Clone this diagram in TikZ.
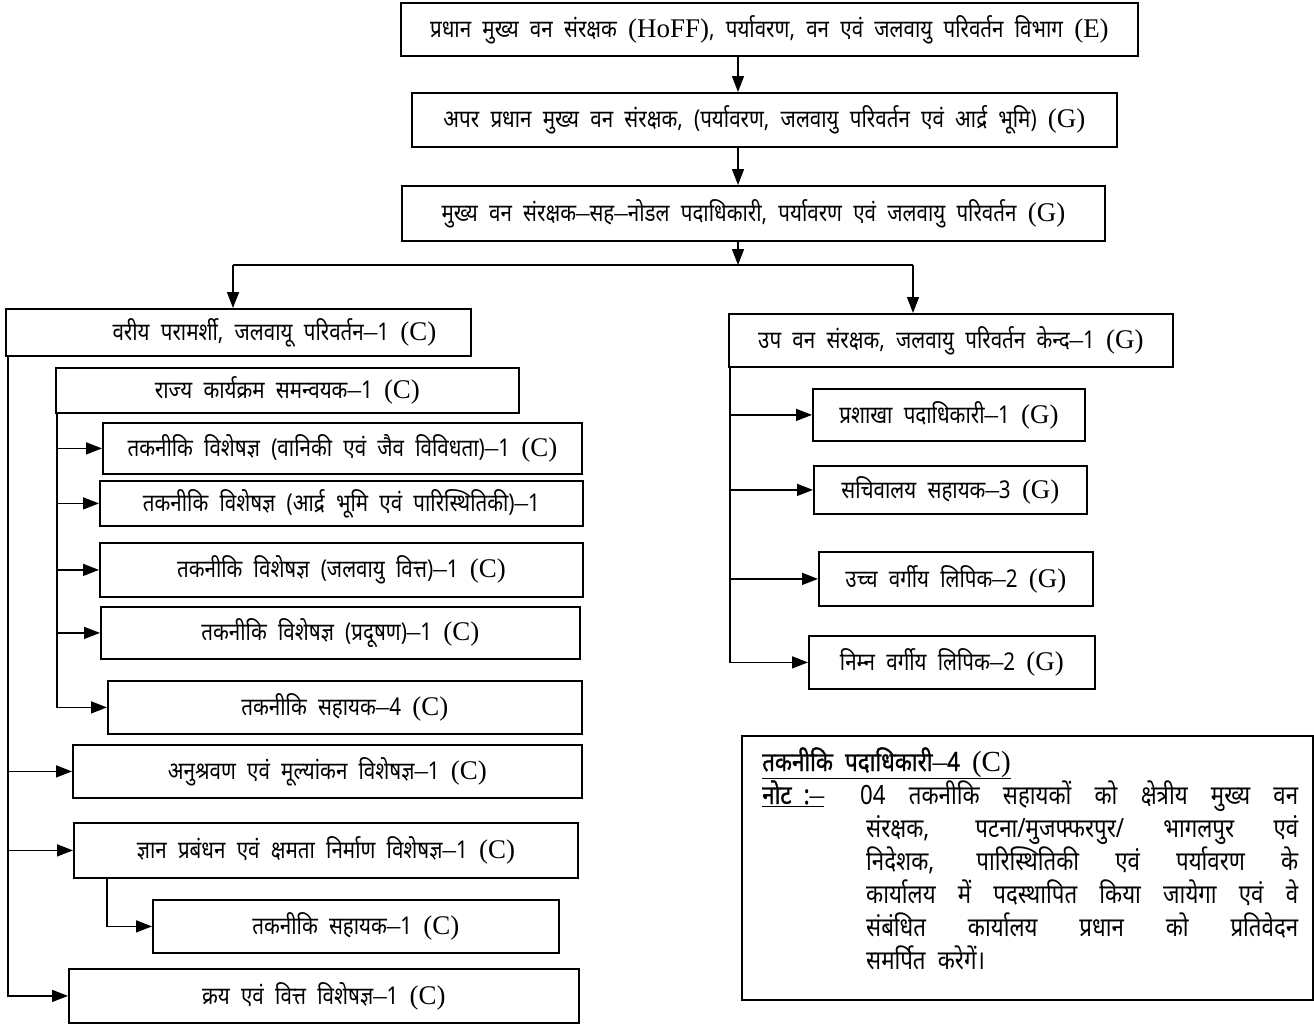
\documentclass[tikz,border=0pt]{standalone}
\usepackage{fontspec}
\setmainfont{Noto Sans}[Script=Devanagari, FakeStretch=0.84, WordSpace=2.1]
\newfontfamily\bdev{Noto Sans}[Script=Devanagari, FakeStretch=0.84, WordSpace=2.1, FakeBold=1.2]
\newfontfamily\lf{Liberation Serif}[Scale=1.1]
\newcommand\LT[1]{{\lf #1}}
\newcommand\D{{\lf –}}
\usetikzlibrary{arrows.meta}
\begin{document}
\begin{tikzpicture}[x=1pt,y=-1pt,
  bx/.style={draw, line width=1.8pt, anchor=north west, inner sep=0pt, align=center, font=\fontsize{24.5}{28}\selectfont},
  ar/.style={line width=1.5pt, -{Triangle[length=16pt,width=12pt]}},
  ln/.style={line width=1.5pt},
  nt/.style={anchor=base west, inner sep=0pt, font=\fontsize{26.5}{30}\selectfont}]
\useasboundingbox (0,0) rectangle (1314,1026);
% top chain
\node[bx, minimum width=737pt, minimum height=53pt] (b1) at (400,2) {प्रधान मुख्य वन संरक्षक \LT{(HoFF)}, पर्यावरण, वन एवं जलवायु परिवर्तन विभाग \LT{(E)}};
\node[bx, minimum width=705pt, minimum height=54pt] (b2) at (411,92) {अपर प्रधान मुख्य वन संरक्षक, (पर्यावरण, जलवायु परिवर्तन एवं आर्द्र भूमि) \LT{(G)}};
\node[bx, minimum width=703pt, minimum height=55pt] (b3) at (401,185) {मुख्य वन संरक्षक\D सह\D नोडल पदाधिकारी, पर्यावरण एवं जलवायु परिवर्तन \LT{(G)}};
% left branch
\node[bx, minimum width=465pt, minimum height=47pt] (L1) at (5,308) {\hspace*{72pt}वरीय परामर्शी, जलवायू परिवर्तन\D 1 \LT{(C)}};
\node[bx, minimum width=463pt, minimum height=45pt] (L2) at (55,367) {राज्य कार्यक्रम समन्वयक\D 1 \LT{(C)}};
\node[bx, minimum width=479pt, minimum height=51pt] (L3) at (102,422) {तकनीकि विशेषज्ञ (वानिकी एवं जैव विविधता)\D 1 \LT{(C)}};
\node[bx, minimum width=483pt, minimum height=45pt] (L4) at (99,480) {तकनीकि विशेषज्ञ (आर्द्र भूमि एवं पारिस्थितिकी)\D 1};
\node[bx, minimum width=483pt, minimum height=54pt] (L5) at (99,542) {तकनीकि विशेषज्ञ (जलवायु वित्त)\D 1 \LT{(C)}};
\node[bx, minimum width=479pt, minimum height=52pt] (L6) at (100,606) {तकनीकि विशेषज्ञ (प्रदूषण)\D 1 \LT{(C)}};
\node[bx, minimum width=474pt, minimum height=53pt] (L7) at (107,680) {तकनीकि सहायक\D 4 \LT{(C)}};
\node[bx, minimum width=509pt, minimum height=53pt] (L8) at (72,744) {अनुश्रवण एवं मूल्यांकन विशेषज्ञ\D 1 \LT{(C)}};
\node[bx, minimum width=504pt, minimum height=55pt] (L9) at (73,822) {ज्ञान प्रबंधन एवं क्षमता निर्माण विशेषज्ञ\D 1 \LT{(C)}};
\node[bx, minimum width=406pt, minimum height=53pt] (L10) at (152,899) {तकनीकि सहायक\D 1 \LT{(C)}};
\node[bx, minimum width=510pt, minimum height=54pt] (L11) at (68,968) {क्रय एवं वित्त विशेषज्ञ\D 1 \LT{(C)}};
% right branch
\node[bx, minimum width=444pt, minimum height=53pt] (R1) at (728,313) {उप वन संरक्षक, जलवायु परिवर्तन केन्द\D 1 \LT{(G)}};
\node[bx, minimum width=272pt, minimum height=52pt] (R2) at (812,388) {प्रशाखा पदाधिकारी\D 1 \LT{(G)}};
\node[bx, minimum width=273pt, minimum height=48pt] (R3) at (813,465) {सचिवालय सहायक\D 3 \LT{(G)}};
\node[bx, minimum width=274pt, minimum height=54pt] (R4) at (818,551) {उच्च वर्गीय लिपिक\D 2 \LT{(G)}};
\node[bx, minimum width=286pt, minimum height=53pt] (R5) at (808,635) {निम्न वर्गीय लिपिक\D 2 \LT{(G)}};
% note box
\node[bx, minimum width=571pt, minimum height=264pt] (note) at (741,735) {};
\node[nt] (n1) at (762,771) {\underline{\bdev तकनीकि पदाधिकारी\D 4 \LT{(C)}}};
\node[nt] (n2) at (762,804) {\underline{\bdev नोट :\D}};
\node[nt] (n3) at (860,804) {\makebox[438pt][s]{04 तकनीकि सहायकों को क्षेत्रीय मुख्य वन}};
\node[nt] (n4) at (866,837) {\makebox[432pt][s]{संरक्षक, पटना/मुजफ्फरपुर/ भागलपुर एवं}};
\node[nt] (n5) at (866,870) {\makebox[432pt][s]{निदेशक, पारिस्थितिकी एवं पर्यावरण के}};
\node[nt] (n6) at (866,903) {\makebox[432pt][s]{कार्यालय में पदस्थापित किया जायेगा एवं वे}};
\node[nt] (n7) at (866,936) {\makebox[432pt][s]{संबंधित कार्यालय प्रधान को प्रतिवेदन}};
\node[nt] (n8) at (866,969) {समर्पित करेगें।};
% connectors top
\coordinate (sp) at (738,265);
\coordinate (jl) at (233,265);
\coordinate (jr) at (913,265);
\draw[ar] (b1.south -| sp) -- (b2.north -| sp);
\draw[ar] (b2.south -| sp) -- (b3.north -| sp);
\draw[ar] (b3.south -| sp) -- (sp);
\draw[ln] (jl) -- (jr);
\draw[ar] (jl) -- (jl |- L1.north);
\draw[ar] (jr) -- (jr |- R1.north);
% left connectors
\draw[ar] ([xshift=3pt]L1.south west) |- (L8.west);
\draw[ar] ([xshift=3pt]L1.south west) |- (L9.west);
\draw[ar] ([xshift=3pt]L1.south west) |- (L11.west);
\draw[ar] ([xshift=2pt]L2.south west) |- (L3.west);
\draw[ar] ([xshift=2pt]L2.south west) |- (L4.west);
\draw[ar] ([xshift=2pt]L2.south west) |- (L5.west);
\draw[ar] ([xshift=2pt]L2.south west) |- (L6.west);
\draw[ar] ([xshift=2pt]L2.south west) |- (L7.west);
\draw[ar] ([xshift=34pt]L9.south west) |- (L10.west);
% right connectors
\draw[ar] ([xshift=2pt]R1.south west) |- (R2.west);
\draw[ar] ([xshift=2pt]R1.south west) |- (R3.west);
\draw[ar] ([xshift=2pt]R1.south west) |- (R4.west);
\draw[ar] ([xshift=2pt]R1.south west) |- (R5.west);
\end{tikzpicture}
\end{document}
